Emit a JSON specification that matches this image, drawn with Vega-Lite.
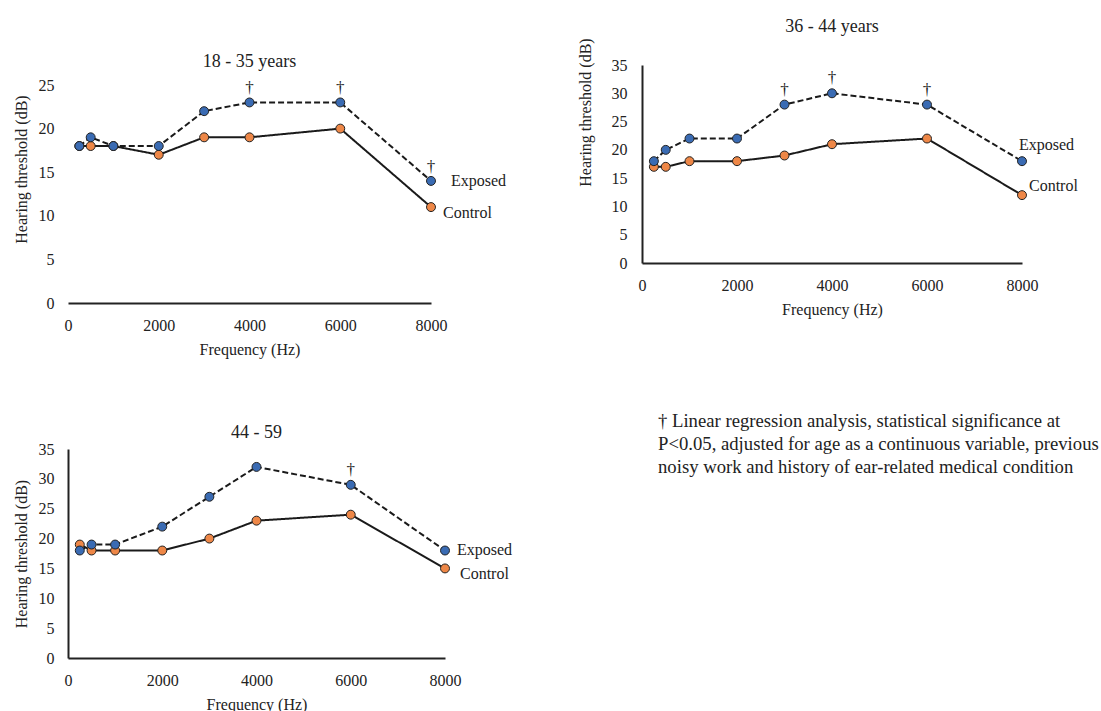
{
  "$schema": "https://vega.github.io/schema/vega-lite/v6.json",
  "background": "white",
  "padding": {"left": 13, "top": 17, "right": 0, "bottom": 0},
  "config": {
    "font": "Liberation Serif",
    "view": {"stroke": null},
    "axis": {"domainColor": "#222", "domainWidth": 2, "ticks": false, "grid": false, "labelFont": "Liberation Serif", "labelFontSize": 16, "labelColor": "#222", "labelFlush": false, "titleFont": "Liberation Serif", "titleFontSize": 16, "titleFontWeight": "normal", "titleColor": "#222"},
    "axisX": {"labelPadding": 14, "titlePadding": 8, "format": "d"},
    "axisY": {"labelPadding": 14, "titlePadding": 9},
    "title": {"font": "Liberation Serif", "fontSize": 18, "fontWeight": "normal", "color": "#222", "anchor": "middle", "frame": "group"}
  },
  "datasets": {
    "audio": [
      {"panel": "A", "group": "Control", "freq": 250, "db": 18, "sig": false},
      {"panel": "A", "group": "Control", "freq": 500, "db": 18, "sig": false},
      {"panel": "A", "group": "Control", "freq": 1000, "db": 18, "sig": false},
      {"panel": "A", "group": "Control", "freq": 2000, "db": 17, "sig": false},
      {"panel": "A", "group": "Control", "freq": 3000, "db": 19, "sig": false},
      {"panel": "A", "group": "Control", "freq": 4000, "db": 19, "sig": false},
      {"panel": "A", "group": "Control", "freq": 6000, "db": 20, "sig": false},
      {"panel": "A", "group": "Control", "freq": 8000, "db": 11, "sig": false},
      {"panel": "A", "group": "Exposed", "freq": 250, "db": 18, "sig": false},
      {"panel": "A", "group": "Exposed", "freq": 500, "db": 19, "sig": false},
      {"panel": "A", "group": "Exposed", "freq": 1000, "db": 18, "sig": false},
      {"panel": "A", "group": "Exposed", "freq": 2000, "db": 18, "sig": false},
      {"panel": "A", "group": "Exposed", "freq": 3000, "db": 22, "sig": false},
      {"panel": "A", "group": "Exposed", "freq": 4000, "db": 23, "sig": true},
      {"panel": "A", "group": "Exposed", "freq": 6000, "db": 23, "sig": true},
      {"panel": "A", "group": "Exposed", "freq": 8000, "db": 14, "sig": true},
      {"panel": "B", "group": "Control", "freq": 250, "db": 17, "sig": false},
      {"panel": "B", "group": "Control", "freq": 500, "db": 17, "sig": false},
      {"panel": "B", "group": "Control", "freq": 1000, "db": 18, "sig": false},
      {"panel": "B", "group": "Control", "freq": 2000, "db": 18, "sig": false},
      {"panel": "B", "group": "Control", "freq": 3000, "db": 19, "sig": false},
      {"panel": "B", "group": "Control", "freq": 4000, "db": 21, "sig": false},
      {"panel": "B", "group": "Control", "freq": 6000, "db": 22, "sig": false},
      {"panel": "B", "group": "Control", "freq": 8000, "db": 12, "sig": false},
      {"panel": "B", "group": "Exposed", "freq": 250, "db": 18, "sig": false},
      {"panel": "B", "group": "Exposed", "freq": 500, "db": 20, "sig": false},
      {"panel": "B", "group": "Exposed", "freq": 1000, "db": 22, "sig": false},
      {"panel": "B", "group": "Exposed", "freq": 2000, "db": 22, "sig": false},
      {"panel": "B", "group": "Exposed", "freq": 3000, "db": 28, "sig": true},
      {"panel": "B", "group": "Exposed", "freq": 4000, "db": 30, "sig": true},
      {"panel": "B", "group": "Exposed", "freq": 6000, "db": 28, "sig": true},
      {"panel": "B", "group": "Exposed", "freq": 8000, "db": 18, "sig": false},
      {"panel": "C", "group": "Control", "freq": 250, "db": 19, "sig": false},
      {"panel": "C", "group": "Control", "freq": 500, "db": 18, "sig": false},
      {"panel": "C", "group": "Control", "freq": 1000, "db": 18, "sig": false},
      {"panel": "C", "group": "Control", "freq": 2000, "db": 18, "sig": false},
      {"panel": "C", "group": "Control", "freq": 3000, "db": 20, "sig": false},
      {"panel": "C", "group": "Control", "freq": 4000, "db": 23, "sig": false},
      {"panel": "C", "group": "Control", "freq": 6000, "db": 24, "sig": false},
      {"panel": "C", "group": "Control", "freq": 8000, "db": 15, "sig": false},
      {"panel": "C", "group": "Exposed", "freq": 250, "db": 18, "sig": false},
      {"panel": "C", "group": "Exposed", "freq": 500, "db": 19, "sig": false},
      {"panel": "C", "group": "Exposed", "freq": 1000, "db": 19, "sig": false},
      {"panel": "C", "group": "Exposed", "freq": 2000, "db": 22, "sig": false},
      {"panel": "C", "group": "Exposed", "freq": 3000, "db": 27, "sig": false},
      {"panel": "C", "group": "Exposed", "freq": 4000, "db": 32, "sig": false},
      {"panel": "C", "group": "Exposed", "freq": 6000, "db": 29, "sig": true},
      {"panel": "C", "group": "Exposed", "freq": 8000, "db": 18, "sig": false}
    ],
    "note": [
      {"note": "† Linear regression analysis, statistical significance at\nP<0.05, adjusted for age as a continuous variable, previous\nnoisy work and history of ear-related medical condition"}
    ],
    "axisA": [
      {"panel": "A", "from": 0, "to": 25}
    ]
  },
  "spacing": 55,
  "vconcat": [
    {
      "spacing": 70,
      "hconcat": [
        {
          "width": 363, "height": 238,
          "title": {"text": "18 - 35 years", "offset": -6},
          "data": {"name": "audio"},
          "transform": [{"filter": "datum.panel === 'A'"}],
          "encoding": {
            "x": {"field": "freq", "type": "quantitative", "title": "Frequency (Hz)", "scale": {"domain": [0, 8000], "nice": false}, "axis": {"values": [0, 2000, 4000, 6000, 8000]}},
            "y": {"field": "db", "type": "quantitative", "title": "Hearing threshold (dB)", "scale": {"domain": [0, 27.294], "nice": false}, "axis": {"values": [0, 5, 10, 15, 20, 25], "domain": false, "titleY": 104}}
          },
          "layer": [
            {"data": {"name": "axisA"}, "mark": {"type": "rule", "color": "#222", "strokeWidth": 2}, "encoding": {"x": {"datum": 0}, "y": {"field": "from", "type": "quantitative"}, "y2": {"field": "to"}}},
            {"mark": {"type": "line", "color": "#1a1a1a", "strokeWidth": 2}, "encoding": {"strokeDash": {"field": "group", "type": "nominal", "scale": {"domain": ["Exposed", "Control"], "range": [[6, 3], [1, 0]]}, "legend": null}}},
            {"mark": {"type": "circle", "size": 80, "stroke": "#222", "strokeWidth": 1, "opacity": 1}, "encoding": {"fill": {"field": "group", "type": "nominal", "scale": {"domain": ["Exposed", "Control"], "range": ["#3a6bb3", "#ee8747"]}, "legend": null}}},
            {"transform": [{"filter": "datum.sig"}], "mark": {"type": "text", "text": "†", "fontSize": 17, "baseline": "alphabetic", "dy": -9, "fill": "#222"}},
            {"transform": [{"filter": "datum.freq === 8000 && datum.group === 'Exposed'"}], "mark": {"type": "text", "align": "left", "baseline": "middle", "dx": 20, "dy": 0, "fontSize": 16, "fill": "#222"}, "encoding": {"text": {"field": "group"}}},
            {"transform": [{"filter": "datum.freq === 8000 && datum.group === 'Control'"}], "mark": {"type": "text", "align": "left", "baseline": "middle", "dx": 12, "dy": 6, "fontSize": 16, "fill": "#222"}, "encoding": {"text": {"field": "group"}}}
          ]
        },
        {
          "width": 380, "height": 198,
          "title": {"text": "36 - 44 years", "offset": 2},
          "data": {"name": "audio"},
          "transform": [{"filter": "datum.panel === 'B'"}],
          "encoding": {
            "x": {"field": "freq", "type": "quantitative", "title": "Frequency (Hz)", "scale": {"domain": [0, 8000], "nice": false}, "axis": {"values": [0, 2000, 4000, 6000, 8000]}},
            "y": {"field": "db", "type": "quantitative", "title": "Hearing threshold (dB)", "scale": {"domain": [0, 35], "nice": false}, "axis": {"values": [0, 5, 10, 15, 20, 25, 30, 35], "labelPadding": 15, "titlePadding": 18, "titleY": 47}}
          },
          "layer": [
            {"mark": {"type": "line", "color": "#1a1a1a", "strokeWidth": 2}, "encoding": {"strokeDash": {"field": "group", "type": "nominal", "scale": {"domain": ["Exposed", "Control"], "range": [[6, 3], [1, 0]]}, "legend": null}}},
            {"mark": {"type": "circle", "size": 80, "stroke": "#222", "strokeWidth": 1, "opacity": 1}, "encoding": {"fill": {"field": "group", "type": "nominal", "scale": {"domain": ["Exposed", "Control"], "range": ["#3a6bb3", "#ee8747"]}, "legend": null}}},
            {"transform": [{"filter": "datum.sig"}], "mark": {"type": "text", "text": "†", "fontSize": 17, "baseline": "alphabetic", "dy": -10, "fill": "#222"}},
            {"transform": [{"filter": "datum.freq === 8000 && datum.group === 'Exposed'"}], "mark": {"type": "text", "align": "left", "baseline": "middle", "dx": -3, "dy": -16, "fontSize": 16, "fill": "#222"}, "encoding": {"text": {"field": "group"}}},
            {"transform": [{"filter": "datum.freq === 8000 && datum.group === 'Control'"}], "mark": {"type": "text", "align": "left", "baseline": "middle", "dx": 7, "dy": -9, "fontSize": 16, "fill": "#222"}, "encoding": {"text": {"field": "group"}}}
          ]
        }
      ]
    },
    {
      "spacing": 145,
      "hconcat": [
        {
          "width": 377, "height": 209,
          "title": {"text": "44 - 59", "offset": -1},
          "data": {"name": "audio"},
          "transform": [{"filter": "datum.panel === 'C'"}],
          "encoding": {
            "x": {"field": "freq", "type": "quantitative", "title": "Frequency (Hz)", "scale": {"domain": [0, 8000], "nice": false}, "axis": {"values": [0, 2000, 4000, 6000, 8000]}},
            "y": {"field": "db", "type": "quantitative", "title": "Hearing threshold (dB)", "scale": {"domain": [0, 35], "nice": false}, "axis": {"values": [0, 5, 10, 15, 20, 25, 30, 35]}}
          },
          "layer": [
            {"mark": {"type": "line", "color": "#1a1a1a", "strokeWidth": 2}, "encoding": {"strokeDash": {"field": "group", "type": "nominal", "scale": {"domain": ["Exposed", "Control"], "range": [[6, 3], [1, 0]]}, "legend": null}}},
            {"mark": {"type": "circle", "size": 80, "stroke": "#222", "strokeWidth": 1, "opacity": 1}, "encoding": {"fill": {"field": "group", "type": "nominal", "scale": {"domain": ["Exposed", "Control"], "range": ["#3a6bb3", "#ee8747"]}, "legend": null}}},
            {"transform": [{"filter": "datum.sig"}], "mark": {"type": "text", "text": "†", "fontSize": 17, "baseline": "alphabetic", "dy": -10, "fill": "#222"}},
            {"transform": [{"filter": "datum.freq === 8000 && datum.group === 'Exposed'"}], "mark": {"type": "text", "align": "left", "baseline": "middle", "dx": 12, "dy": -1, "fontSize": 16, "fill": "#222"}, "encoding": {"text": {"field": "group"}}},
            {"transform": [{"filter": "datum.freq === 8000 && datum.group === 'Control'"}], "mark": {"type": "text", "align": "left", "baseline": "middle", "dx": 15, "dy": 6, "fontSize": 16, "fill": "#222"}, "encoding": {"text": {"field": "group"}}}
          ]
        },
        {
          "width": 440, "height": 70,
          "data": {"name": "note"},
          "mark": {"type": "text", "align": "left", "baseline": "top", "lineBreak": "\n", "lineHeight": 23, "fontSize": 18.7, "fill": "#222", "dy": -37},
          "encoding": {
            "text": {"field": "note"},
            "x": {"datum": 0, "type": "quantitative", "scale": {"domain": [0, 1]}, "axis": null},
            "y": {"datum": 1, "type": "quantitative", "scale": {"domain": [0, 1]}, "axis": null}
          }
        }
      ]
    }
  ]
}
